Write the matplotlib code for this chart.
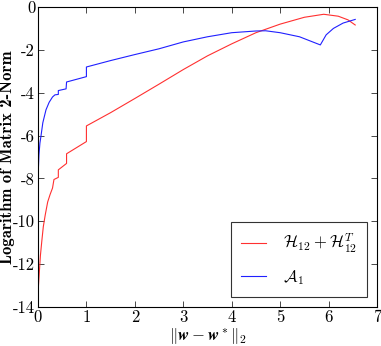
import matplotlib
matplotlib.use('Agg')
import matplotlib.pyplot as plt
from matplotlib import font_manager
import os

#----------Data----------#

h_dist = [0.0, 0.01, 0.03, 0.05, 0.08, 0.11, 0.15, 0.2, 0.25, 0.3, 0.33, 0.42, 0.42,
          0.59, 0.59, 1.0, 1.0, 1.5, 2.0, 2.5, 3.0, 3.5, 4.0, 4.5, 5.0, 5.5, 5.9,
          6.2, 6.4, 6.55]
h_norm = [-14.0, -13.0, -12.3, -11.6, -10.9, -10.25, -9.7, -9.1, -8.75, -8.45, -8.05, -7.95, -7.6,
          -7.3, -6.85, -6.28, -5.55, -4.93, -4.27, -3.6, -2.92, -2.28, -1.72, -1.2, -0.8, -0.48, -0.34,
          -0.43, -0.6, -0.84]

a_dist = [0.01, 0.02, 0.04, 0.06, 0.1, 0.165, 0.23, 0.3, 0.35, 0.42, 0.42, 0.58, 0.59, 1.0, 1.0,
          1.5, 2.0, 2.5, 3.0, 3.5, 4.0, 4.5, 4.7, 5.0, 5.4, 5.83, 5.95, 6.1, 6.3, 6.55]
a_norm = [-7.45, -6.9, -6.35, -6.05, -5.4, -4.8, -4.45, -4.2, -4.1, -4.08, -3.9, -3.82, -3.5, -3.25, -2.8,
          -2.5, -2.22, -1.95, -1.63, -1.39, -1.2, -1.12, -1.11, -1.2, -1.39, -1.77, -1.3, -1.0, -0.75, -0.58]

x_ticks = [0, 1, 2, 3, 4, 5, 6, 7]
y_ticks = [-14, -12, -10, -8, -6, -4, -2, 0]

#----------Fonts (Computer Modern shipped with matplotlib)----------#

font_dir = os.path.join(matplotlib.get_data_path(), 'fonts', 'ttf')
cmr = font_manager.FontProperties(fname=os.path.join(font_dir, 'cmr10.ttf'), size=12)
cmb = font_manager.FontProperties(fname=os.path.join(font_dir, 'cmb10.ttf'), size=12)

plt.rcParams['mathtext.fontset'] = 'cm'
plt.rcParams['axes.unicode_minus'] = False

#----------Plot----------#

fig = plt.figure(figsize=(3.81, 3.46), dpi=100)
ax = fig.add_axes([0.0997, 0.1127, 0.8898, 0.8671])

ax.plot(h_dist, h_norm, color='#ff3030', lw=0.8, label=r'$\mathcal{H}_{12}+\mathcal{H}_{12}^T$')
ax.plot(a_dist, a_norm, color='#2020ff', lw=0.8, label=r'$\mathcal{A}_1$')

ax.set_xlim(0, 7)
ax.set_ylim(-14, 0)
ax.set_xticks(x_ticks)
ax.set_yticks(y_ticks)
ax.set_xticklabels([str(t) for t in x_ticks], fontproperties=cmr)
ax.set_yticklabels([str(t) for t in y_ticks], fontproperties=cmr)
ax.tick_params(direction='in', top=True, right=True, length=4, width=0.5, pad=2)
for spine in ax.spines.values():
    spine.set_linewidth(0.8)

ax.set_xlabel(r'$\|\boldsymbol{w}-\boldsymbol{w}^*\|_2$', fontsize=12, labelpad=1)
ax.set_ylabel('Logarithm of Matrix 2-Norm', fontproperties=cmb)
ax.yaxis.set_label_coords(-0.068, 0.5)

leg = ax.legend(loc='lower right', fontsize=12, fancybox=False, edgecolor='black',
                handlelength=1.5, handletextpad=1.0, borderpad=0.6, labelspacing=0.8,
                borderaxespad=0.6)
leg.get_frame().set_linewidth(0.8)

plt.savefig('out.png', dpi=100)
